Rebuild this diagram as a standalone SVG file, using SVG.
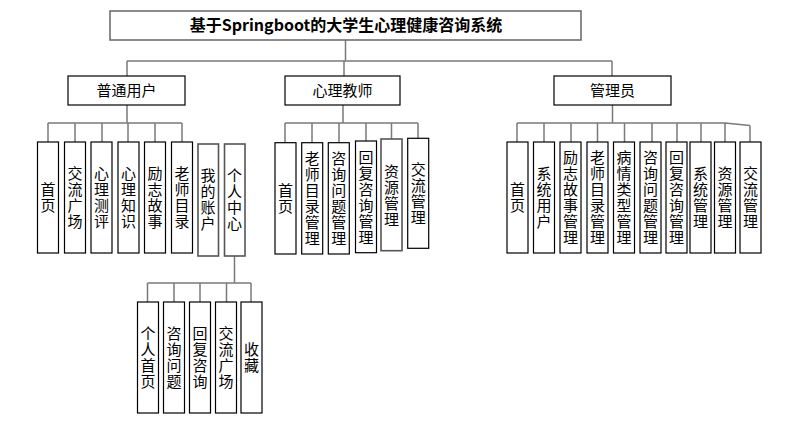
<svg xmlns="http://www.w3.org/2000/svg" width="794" height="438" viewBox="0 0 794 438">
  <style>
    .bx { fill: #ffffff; stroke: #000000; stroke-width: 1.2; }
    .bx-g { fill: #ffffff; stroke: #555555; stroke-width: 1.6; }
    .bx-t { fill: #ffffff; stroke: #6e6e6e; stroke-width: 1.6; }
    .ln { fill: none; stroke: #7a7a7a; stroke-width: 1.5; }
    .tt { font-family: "Noto Sans CJK SC", "Noto Sans", sans-serif; font-size: 16px; font-weight: bold; fill: #000000; text-anchor: middle; }
    .l1 { font-family: "Noto Sans CJK SC", "Noto Sans", sans-serif; font-size: 15px; fill: #000000; text-anchor: middle; }
    /* upright vertical labels, one column per box */
    .vt { font-family: "Noto Sans CJK SC", "Noto Sans", sans-serif; font-size: 15px; fill: #000000; text-anchor: middle; writing-mode: vertical-rl; text-orientation: upright; letter-spacing: 1px; }
  </style>

  <!-- connectors -->
  <g id="connectors">
    <!-- root to level 1 -->
    <path class="ln" d="M345.5 40 V61 M127 61 H612 M127 61 V76 M344 61 V76 M612 61 V76"/>
    <!-- 普通用户 -->
    <path class="ln" d="M127 105 V123 M48 123 H182 M48 123 V142 M75 123 V142 M102 123 V142 M128 123 V142 M155 123 V142 M182 123 V142"/>
    <!-- 个人中心 -->
    <path class="ln" d="M234.5 256 V283 M147.5 283 H251 M147.5 283 V302 M174 283 V302 M200 283 V302 M226.5 283 V302 M251 283 V302"/>
    <!-- 心理教师 -->
    <path class="ln" d="M343 105 V123 M285 123 H418 M285 123 V142.7 M312 123 V142.7 M339 123 V142.7 M366 123 V141 M391.5 123 V139 M418 123 V138.3"/>
    <!-- 管理员 -->
    <path class="ln" d="M612.5 105 V123 M517 123 H725 L750 125.5 M517 123 V142 M544 123 V142 M571 123 V142 M597.5 123 V142 M624.5 123 V142 M652 123 V142 M677 123 V142 M701 123 V142 M725 123 V142 M750 125.5 V142"/>
  </g>

  <!-- root -->
  <g id="root">
    <rect class="bx-t" x="110" y="11" width="471" height="29"/>
    <text class="tt" x="346" y="31">基于Springboot的大学生心理健康咨询系统</text>
  </g>

  <!-- level 1 -->
  <g id="user">
    <rect class="bx" x="68" y="76" width="117" height="29"/>
    <text class="l1" x="126.5" y="96">普通用户</text>
  </g>
  <g id="teacher">
    <rect class="bx" x="285" y="76" width="115" height="29"/>
    <text class="l1" x="342.5" y="96">心理教师</text>
  </g>
  <g id="admin">
    <rect class="bx" x="554" y="76" width="117" height="29"/>
    <text class="l1" x="612.5" y="96">管理员</text>
  </g>

  <!-- 普通用户 children -->
  <g id="u-home">
    <rect class="bx" x="37.5" y="142" width="21" height="111"/>
    <text class="vt" x="48" y="198">首页</text>
  </g>
  <g id="u-forum">
    <rect class="bx" x="64.5" y="142" width="21" height="111"/>
    <text class="vt" x="75" y="198">交流广场</text>
  </g>
  <g id="u-test">
    <rect class="bx" x="91" y="142" width="21" height="111"/>
    <text class="vt" x="101.5" y="198">心理测评</text>
  </g>
  <g id="u-knowledge">
    <rect class="bx" x="118" y="142" width="21" height="111"/>
    <text class="vt" x="128.5" y="198">心理知识</text>
  </g>
  <g id="u-story">
    <rect class="bx" x="144.5" y="142" width="21" height="111"/>
    <text class="vt" x="155" y="198">励志故事</text>
  </g>
  <g id="u-teachers">
    <rect class="bx" x="171.5" y="142" width="21" height="111"/>
    <text class="vt" x="182" y="198">老师目录</text>
  </g>
  <g id="u-account">
    <rect class="bx-g" x="198" y="144" width="20.5" height="112"/>
    <text class="vt" x="208" y="200">我的账户</text>
  </g>
  <g id="u-center">
    <rect class="bx-g" x="224.5" y="144" width="20.5" height="112"/>
    <text class="vt" x="234.5" y="200">个人中心</text>
  </g>

  <!-- 个人中心 children -->
  <g id="c-home">
    <rect class="bx" x="137.5" y="302" width="21" height="111"/>
    <text class="vt" x="148" y="358">个人首页</text>
  </g>
  <g id="c-ask">
    <rect class="bx" x="163.5" y="302" width="21" height="111"/>
    <text class="vt" x="174" y="358">咨询问题</text>
  </g>
  <g id="c-reply">
    <rect class="bx" x="189.5" y="302" width="21" height="111"/>
    <text class="vt" x="200" y="358">回复咨询</text>
  </g>
  <g id="c-forum">
    <rect class="bx" x="215.5" y="302" width="21" height="111"/>
    <text class="vt" x="226" y="358">交流广场</text>
  </g>
  <g id="c-fav">
    <rect class="bx" x="241" y="302" width="21" height="111"/>
    <text class="vt" x="251.5" y="358">收藏</text>
  </g>

  <!-- 心理教师 children -->
  <g id="t-home">
    <rect class="bx" x="275" y="142.7" width="21" height="111.3"/>
    <text class="vt" x="285.5" y="199">首页</text>
  </g>
  <g id="t-teachers">
    <rect class="bx" x="301.7" y="142.7" width="21" height="111.3"/>
    <text class="vt" x="312.2" y="199">老师目录管理</text>
  </g>
  <g id="t-questions">
    <rect class="bx" x="328.3" y="142.7" width="21" height="111.3"/>
    <text class="vt" x="338.8" y="199">咨询问题管理</text>
  </g>
  <g id="t-replies">
    <rect class="bx" x="355.5" y="141" width="21" height="111.7"/>
    <text class="vt" x="366" y="197.5">回复咨询管理</text>
  </g>
  <g id="t-resources">
    <rect class="bx-g" x="381" y="139" width="21" height="111.7"/>
    <text class="vt" x="391.5" y="195.5">资源管理</text>
  </g>
  <g id="t-exchange">
    <rect class="bx" x="407.7" y="138.3" width="21" height="110"/>
    <text class="vt" x="418.2" y="193.5">交流管理</text>
  </g>

  <!-- 管理员 children -->
  <g id="a-home">
    <rect class="bx" x="507" y="142" width="21" height="111"/>
    <text class="vt" x="517.5" y="198">首页</text>
  </g>
  <g id="a-users">
    <rect class="bx" x="533.5" y="142" width="21" height="111"/>
    <text class="vt" x="544" y="198">系统用户</text>
  </g>
  <g id="a-stories">
    <rect class="bx" x="560" y="142" width="21" height="111"/>
    <text class="vt" x="570.5" y="198">励志故事管理</text>
  </g>
  <g id="a-teachers">
    <rect class="bx" x="587" y="142" width="21" height="111"/>
    <text class="vt" x="597.5" y="198">老师目录管理</text>
  </g>
  <g id="a-conditions">
    <rect class="bx" x="613.5" y="142" width="21" height="111"/>
    <text class="vt" x="624" y="198">病情类型管理</text>
  </g>
  <g id="a-questions">
    <rect class="bx" x="640" y="142" width="21" height="111"/>
    <text class="vt" x="650.5" y="198">咨询问题管理</text>
  </g>
  <g id="a-replies">
    <rect class="bx" x="666" y="142" width="21" height="111"/>
    <text class="vt" x="676.5" y="198">回复咨询管理</text>
  </g>
  <g id="a-system">
    <rect class="bx" x="690" y="142" width="21" height="111"/>
    <text class="vt" x="700.5" y="198">系统管理</text>
  </g>
  <g id="a-resources">
    <rect class="bx" x="714.5" y="142" width="21" height="111"/>
    <text class="vt" x="725" y="198">资源管理</text>
  </g>
  <g id="a-exchange">
    <rect class="bx" x="740" y="142" width="21" height="111"/>
    <text class="vt" x="750.5" y="198">交流管理</text>
  </g>
</svg>
